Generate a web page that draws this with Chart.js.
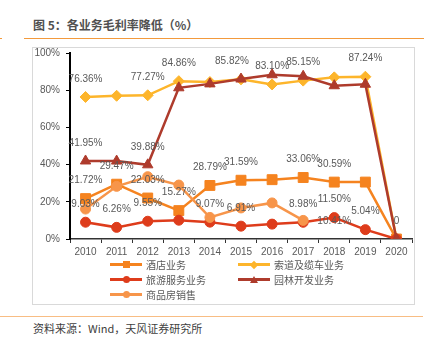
<!DOCTYPE html>
<html>
<head>
<meta charset="utf-8">
<script src="https://cdn.jsdelivr.net/npm/chart.js@4/dist/chart.umd.min.js"></script>
<style>
  body { margin: 0; width: 435px; height: 345px; background: #fff; position: relative; overflow: hidden;
         font-family: "Liberation Sans", Arial, "Noto Sans CJK SC", sans-serif; }
  .title { position: absolute; left: 33px; top: 16px; font-size: 12px; font-weight: bold; color: #505050;
           font-family: "Noto Sans CJK SC", sans-serif; line-height: 18px; white-space: nowrap; }
  .rule-top { position: absolute; left: 24px; top: 38px; width: 400px; height: 1px; background: #F39A3C; }
  .rule-mark { position: absolute; left: 0; top: 38px; width: 2px; height: 1px; background: #F39A3C; }
  .frame { position: absolute; left: 32px; top: 47px; width: 383px; height: 258px; box-sizing: border-box;
           border: 1px solid #d9d9d9; }
  .chart-wrap { position: absolute; left: 33px; top: 41px; width: 387px; height: 263px; }
  .legend { position: absolute; left: 110px; top: 257px; display: grid; grid-template-columns: 128px 128px;
            grid-auto-rows: 15px; font-size: 10px; color: #595959; font-family: "Noto Sans CJK SC", sans-serif; }
  .legend .item { display: flex; align-items: center; white-space: nowrap; }
  .legend .swatch { position: relative; width: 32px; height: 3px; margin-right: 4px; }
  .legend .mk { position: absolute; left: 50%; top: 50%; }
  .rule-bottom { position: absolute; left: 0; top: 316px; width: 423px; height: 1px; background: #F8BD84; }
  .source { position: absolute; left: 33px; top: 320px; font-size: 11px; color: #404040; line-height: 16px;
            font-family: "Noto Sans CJK SC", sans-serif; white-space: nowrap; }
</style>
</head>
<body>
<div class="title">图 5：各业务毛利率降低（%）</div>
<div class="rule-mark"></div>
<div class="rule-top"></div>
<div class="frame"></div>
<div class="chart-wrap"><canvas id="chart" width="387" height="263"></canvas></div>
<div class="legend" id="legend"></div>
<div class="rule-bottom"></div>
<div class="source">资料来源：Wind，天风证券研究所</div>

<script>
// categories
const years = ['2010', '2011', '2012', '2013', '2014', '2015', '2016', '2017', '2018', '2019', '2020'];

// gross margin by business line (%)
const hotel   = [21.72, 29.47, 22.03, 15.27, 28.79, 31.59, 31.9, 33.06, 30.59, 30.6, 0];
const ropeway = [76.36, 77.0, 77.27, 84.86, 84.4, 85.82, 83.10, 85.15, 86.9, 87.24, 0];
const tourism = [9.03, 6.26, 9.55, 10.1, 9.07, 6.91, 8.0, 8.98, 11.50, 5.04, 0];
const garden  = [41.95, 41.9, 39.88, 81.3, 83.4, 86.0, 88.3, 87.5, 82.4, 83.2, 0];
const housing = [16.1, 28.3, 33.5, 29.0, 11.6, 16.7, 19.4, 10.0, null, null, null];

// value labels shown on the chart
const hotelLabels   = ['21.72%', '29.47%', '22.03%', '15.27%', '28.79%', '31.59%', null, '33.06%', '30.59%', null, null];
const ropewayLabels = ['76.36%', null, '77.27%', '84.86%', null, '85.82%', '83.10%', '85.15%', null, '87.24%', null];
const tourismLabels = ['9.03%', '6.26%', '9.55%', null, '9.07%', '6.91%', null, '8.98%', ['11.50%', '10.41%'], '5.04%', null];
const gardenLabels  = ['41.95%', null, '39.88%', null, null, null, null, null, null, null, '0'];

// y axis
const yMin = 0, yMax = 100, yStep = 20;

function series(label, data, color, pointStyle, radius, order, valueLabels, labelNudge) {
  return {
    label, data, order, valueLabels, labelNudge: labelNudge || {},
    borderColor: color, backgroundColor: color,
    pointBackgroundColor: color, pointBorderColor: color,
    pointStyle, pointRadius: radius, pointHoverRadius: radius,
    borderWidth: 2.5, pointBorderWidth: 1, tension: 0
  };
}

// draws the value labels above the points
const valueLabelPlugin = {
  id: 'valueLabels',
  afterDatasetsDraw(chart) {
    const ctx = chart.ctx;
    ctx.save();
    ctx.font = '10px "Liberation Sans", Arial, sans-serif';
    ctx.fillStyle = '#595959';
    ctx.textAlign = 'center';
    ctx.textBaseline = 'middle';
    chart.data.datasets.forEach((ds, di) => {
      if (!ds.valueLabels) return;
      const meta = chart.getDatasetMeta(di);
      ds.valueLabels.forEach((txt, i) => {
        const pt = meta.data[i];
        if (!txt || !pt || ds.data[i] == null) return;
        const dx = ds.labelNudge[i] || 0;
        const list = Array.isArray(txt) ? txt : [txt];
        list.forEach((t, k) => {
          ctx.fillText(t, pt.x + dx, k === 0 ? pt.y - 18 : pt.y + 4);
        });
      });
    });
    ctx.restore();
  }
};

// legend built as html, two columns
function buildLegend(chart) {
  const box = document.getElementById('legend');
  box.innerHTML = '';
  chart.data.datasets.forEach(ds => {
    const item = document.createElement('div');
    item.className = 'item';
    const sw = document.createElement('span');
    sw.className = 'swatch';
    sw.style.background = ds.borderColor;
    const mk = document.createElement('span');
    mk.className = 'mk';
    const c = ds.borderColor;
    if (ds.pointStyle === 'rect') {
      mk.style.cssText = `width:7px;height:7px;margin:-3.5px 0 0 -3.5px;background:${c}`;
    } else if (ds.pointStyle === 'rectRot') {
      mk.style.cssText = `width:6px;height:6px;margin:-3px 0 0 -3px;background:${c};transform:rotate(45deg)`;
    } else if (ds.pointStyle === 'triangle') {
      mk.style.cssText = `width:0;height:0;margin:-4px 0 0 -4px;border-left:4px solid transparent;border-right:4px solid transparent;border-bottom:7px solid ${c}`;
    } else {
      mk.style.cssText = `width:7px;height:7px;margin:-3.5px 0 0 -3.5px;background:${c};border-radius:50%`;
    }
    sw.appendChild(mk);
    const tx = document.createElement('span');
    tx.textContent = ds.label;
    item.appendChild(sw);
    item.appendChild(tx);
    box.appendChild(item);
  });
}

const chart = new Chart(document.getElementById('chart').getContext('2d'), {
  type: 'line',
  data: {
    labels: years,
    datasets: [
      series('酒店业务', hotel, '#F5831F', 'rect', 7, 5, hotelLabels),
      series('索道及缆车业务', ropeway, '#FDB52B', 'rectRot', 5.5, 4, ropewayLabels, { 5: -9 }),
      series('旅游服务业务', tourism, '#DE3C1B', 'circle', 5, 3, tourismLabels),
      series('园林开发业务', garden, '#AE3B2C', 'triangle', 6, 2, gardenLabels),
      series('商品房销售', housing, '#F7954A', 'circle', 5, 1, null)
    ]
  },
  options: {
    responsive: false,
    animation: false,
    layout: { padding: { top: 0, right: 3, bottom: 45, left: 0 } },
    plugins: {
      legend: { display: false },
      tooltip: { enabled: false }
    },
    scales: {
      x: {
        offset: true,
        grid: { drawOnChartArea: false, drawTicks: true, tickLength: 4, tickColor: '#333', offset: true },
        border: { color: '#333', width: 1.5 },
        ticks: { color: '#595959', font: { size: 10 }, padding: 3, maxRotation: 0, autoSkip: false },
        afterFit: (s) => { s.height = 20; }
      },
      y: {
        min: yMin,
        max: yMax,
        grid: { drawOnChartArea: false, drawTicks: true, tickLength: 4, tickColor: '#000' },
        border: { color: '#000', width: 2 },
        ticks: { stepSize: yStep, color: '#595959', font: { size: 10 }, padding: 6, callback: v => v + '%' },
        afterFit: (s) => { s.width = 37; }
      }
    }
  },
  plugins: [valueLabelPlugin]
});

buildLegend(chart);
</script>
</body>
</html>
